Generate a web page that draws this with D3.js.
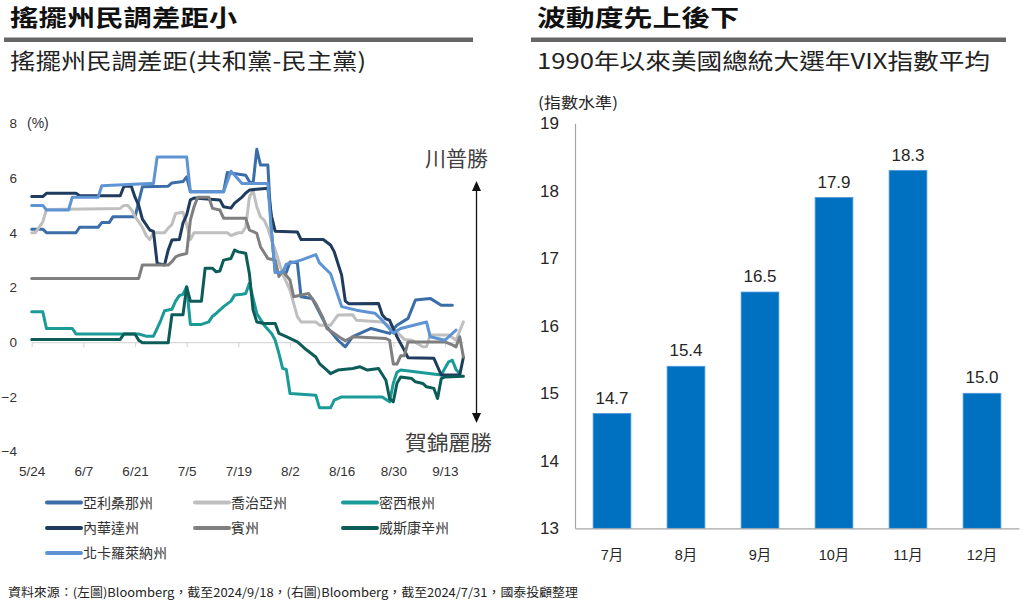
<!DOCTYPE html>
<html><head><meta charset="utf-8">
<script src="https://cdn.jsdelivr.net/npm/d3@7"></script>
<style>body{margin:0;background:#fff} svg{display:block}</style>
</head><body><svg id="c" width="1024" height="606"></svg>
<script>
// ---------- Left chart data ----------
const xTickLabels = ["5/24","6/7","6/21","7/5","7/19","8/2","8/16","8/30","9/13"];
const yTicksLeft = [8,6,4,2,0,-2,-4];
const stateNames = ["亞利桑那州","喬治亞州","密西根州","內華達州","賓州","威斯康辛州","北卡羅萊納州"];
const stateColors = ["#3b6ea8","#bfbfbf","#1a9b98","#1f3b5e","#7f7f7f","#0c5c57","#5e94d4"];

const arizona = [["5/24",4.13],["5/27",4.13],["5/28",4.0],["6/5",4.0],["6/6",4.2],["6/11",4.2],["6/12",4.37],["6/14",4.37],["6/15",4.58],["6/21",4.58],["6/23",5.68],["6/30",5.7],["7/1",5.82],["7/4",5.87],["7/5",6.04],["7/6",5.5],["7/15",5.5],["7/16",6.2],["7/21",6.1],["7/22",5.87],["7/23",5.8],["7/24",7.05],["7/25",6.48],["7/27",6.48],["7/28",4.0],["7/29",2.55],["8/1",2.55],["8/2",2.93],["8/4",2.9],["8/5",1.66],["8/8",1.6],["8/12",0.56],["8/15",0.07],["8/17",-0.17],["8/19",0.2],["8/24",0.5],["8/29",0.32],["8/31",0.62],["9/3",0.87],["9/5",1.54],["9/9",1.6],["9/12",1.35],["9/15",1.35]];
const georgia = [["5/24",4.0],["5/25",4.0],["5/27",4.4],["5/28",4.85],["6/17",4.89],["6/18",5.0],["6/19",5.0],["6/20",4.85],["6/21",4.6],["6/23",4.2],["6/24",3.9],["6/25",3.75],["6/26",4.0],["6/29",4.0],["6/30",4.17],["7/1",4.3],["7/2",4.7],["7/4",4.75],["7/5",4.3],["7/6",3.75],["7/7",4.0],["7/16",4.0],["7/17",3.9],["7/19",4.0],["7/20",4.0],["7/21",4.2],["7/22",5.3],["7/23",5.55],["7/24",4.95],["7/25",4.58],["7/26",4.46],["7/27",4.16],["7/28",3.73],["7/29",3.37],["7/31",2.5],["8/2",1.9],["8/3",1.42],["8/4",0.93],["8/5",0.74],["8/9",0.74],["8/10",0.62],["8/13",0.62],["8/15",0.99],["8/19",1.0],["8/20",0.8],["8/27",0.74],["8/30",0.5],["9/2",0.1],["9/4",0.07],["9/7",-0.17],["9/8",-0.17],["9/9",0.26],["9/14",0.26],["9/16",0.07],["9/18",0.74]];
const michigan = [["5/24",1.11],["5/27",1.11],["5/28",0.5],["6/4",0.5],["6/5",0.3],["6/22",0.3],["6/24",0.22],["6/26",0.22],["6/27",0.5],["6/28",0.8],["6/29",1.15],["7/1",1.2],["7/2",1.5],["7/3",1.7],["7/4",1.75],["7/5",2.02],["7/6",0.65],["7/9",0.65],["7/11",0.74],["7/12",0.95],["7/13",1.05],["7/15",1.3],["7/17",1.5],["7/18",1.72],["7/20",1.75],["7/21",1.78],["7/22",2.15],["7/23",1.6],["7/24",1.05],["7/26",0.62],["7/28",0.32],["7/29",0.07],["7/30",-0.41],["7/31",-0.96],["8/1",-1.0],["8/2",-1.88],["8/9",-1.94],["8/10",-2.4],["8/13",-2.4],["8/14",-2.12],["8/16",-2.0],["8/27",-2.0],["8/29",-2.18],["8/30",-1.5],["8/31",-1.1],["9/1",-1.02],["9/12",-1.2],["9/13",-0.95],["9/14",-0.72],["9/15",-0.66],["9/16",-1.0],["9/17",-1.15]];
const nevada = [["5/24",5.32],["5/27",5.32],["5/28",5.44],["6/5",5.44],["6/6",5.35],["6/17",5.35],["6/18",5.7],["6/20",5.7],["6/21",5.3],["6/22",5.0],["6/23",4.5],["6/25",4.1],["6/26",4.05],["6/27",2.88],["6/29",2.82],["6/30",3.37],["7/1",3.73],["7/3",3.75],["7/4",4.35],["7/5",4.65],["7/6",5.2],["7/7",5.27],["7/14",5.2],["7/15",4.95],["7/17",4.9],["7/18",5.08],["7/20",5.3],["7/21",5.45],["7/22",5.56],["7/27",5.63],["7/28",4.6],["7/29",4.05],["8/4",4.03],["8/5",3.75],["8/11",3.75],["8/13",3.55],["8/14",3.3],["8/16",2.45],["8/17",1.5],["8/18",1.4],["8/26",1.41],["8/27",1.0],["8/28",0.85],["8/29",0.8],["8/31",0.2],["9/2",-0.3],["9/3",-0.57],["9/10",-0.59],["9/12",-1.2],["9/17",-1.2],["9/18",-0.55]];
const pennsylvania = [["5/24",2.33],["6/22",2.33],["6/23",2.82],["6/30",2.82],["7/1",2.94],["7/2",3.12],["7/3",3.18],["7/5",3.24],["7/6",4.46],["7/7",4.95],["7/8",5.3],["7/11",5.3],["7/12",4.89],["7/14",4.83],["7/15",4.53],["7/21",4.53],["7/22",4.1],["7/24",3.98],["7/25",3.49],["7/27",3.06],["7/29",3.0],["7/30",2.4],["7/31",2.6],["8/2",2.27],["8/3",1.66],["8/7",1.78],["8/9",1.41],["8/11",0.87],["8/12",0.5],["8/14",0.32],["8/16",0.13],["8/17",0.05],["8/19",0.2],["8/28",0.13],["8/29",0.07],["8/30",-0.8],["8/31",-0.8],["9/1",-0.5],["9/2",-0.5],["9/3",0.01],["9/13",0.01],["9/15",-0.1],["9/16",-0.17],["9/17",0.2],["9/18",-0.54]];
const wisconsin = [["5/24",0.1],["6/17",0.1],["6/18",0.3],["6/21",0.3],["6/22",0.07],["6/23",-0.02],["6/30",-0.02],["7/1",1.0],["7/4",1.0],["7/5",2.02],["7/6",1.5],["7/9",1.5],["7/10",2.7],["7/12",2.7],["7/13",2.57],["7/14",2.6],["7/15",3.0],["7/17",3.06],["7/18",3.37],["7/19",3.3],["7/21",3.25],["7/22",2.5],["7/23",1.17],["7/24",0.74],["7/26",0.68],["7/29",0.68],["7/30",0.32],["8/1",0.2],["8/4",0.01],["8/6",-0.23],["8/9",-0.54],["8/10",-0.78],["8/12",-1.02],["8/13",-1.15],["8/15",-1.02],["8/19",-0.96],["8/21",-0.9],["8/23",-1.02],["8/26",-0.96],["8/28",-1.39],["8/29",-2.06],["8/30",-2.18],["8/31",-1.5],["9/1",-1.27],["9/4",-1.33],["9/5",-1.45],["9/7",-1.51],["9/8",-1.63],["9/10",-1.69],["9/11",-2.06],["9/12",-1.33],["9/13",-1.27],["9/18",-1.25]];
const northCarolina = [["5/24",5.0],["5/27",5.0],["5/28",4.83],["6/3",4.83],["6/4",5.3],["6/11",5.3],["6/12",5.72],["6/25",5.8],["6/26",5.8],["6/27",6.77],["7/5",6.77],["7/6",5.5],["7/15",5.5],["7/17",6.25],["7/18",6.1],["7/20",5.8],["7/27",5.8],["7/28",4.0],["7/29",2.55],["7/31",2.55],["8/1",2.85],["8/5",3.0],["8/9",3.2],["8/10",2.9],["8/13",2.5],["8/16",1.3],["8/20",1.17],["8/25",1.06],["8/27",0.8],["8/30",0.33],["9/1",0.5],["9/8",0.74],["9/9",0.2],["9/13",0.07],["9/16",0.44]];

// ---------- Right chart data ----------
const months = ["7月","8月","9月","10月","11月","12月"];
const vixAvg = [14.7,15.4,16.5,17.9,18.3,15.0];
const yTicksRight = [13,14,15,16,17,18,19];

// ---------- helpers ----------
const md = s => { const [m,d] = s.split("/").map(Number); return new Date(2024, m-1, d); };
const allSeries = [arizona, georgia, michigan, nevada, pennsylvania, wisconsin, northCarolina];

const svg = d3.select("#c");
const CJK = "'Noto Sans CJK TC','Noto Sans CJK SC',sans-serif";
const LAT = "'Liberation Sans',Arial,'Noto Sans CJK TC',sans-serif";

// ---------- Headers ----------
function header(x0, x1, title, tlen, sub, slen) {
  svg.append("text").attr("x", x0 + 6).attr("y", 25.5).attr("font-family", CJK)
    .attr("font-size", 23).attr("font-weight", "bold").attr("fill", "#111")
    .attr("textLength", tlen).attr("lengthAdjust", "spacingAndGlyphs").text(title);
  svg.append("rect").attr("x", x0).attr("y", 37.5).attr("width", x1 - x0).attr("height", 4.5).attr("fill", "#666");
  svg.append("text").attr("x", x0 + 6).attr("y", 69).attr("font-family", CJK)
    .attr("font-size", 22).attr("fill", "#222")
    .attr("textLength", slen).attr("lengthAdjust", "spacingAndGlyphs").text(sub);
}
header(4, 473, "搖擺州民調差距小", 227, "搖擺州民調差距(共和黨-民主黨)", 356);
header(531, 1006, "波動度先上後下", 202, "1990年以來美國總統大選年VIX指數平均", 453);

// ---------- Left line chart ----------
const x = d3.scaleTime().domain([md("5/24"), md("9/18")]).range([31.7, 463.4]);
const y = d3.scaleLinear().domain([-4, 8]).range([451.6, 123.3]);

const gL = svg.append("g");
const axZ = gL.append("g").attr("transform", `translate(0,${y(0)})`)
  .call(d3.axisBottom(x).tickValues(xTickLabels.map(md)).tickSize(5).tickSizeOuter(0).tickFormat(""));
axZ.select(".domain").attr("stroke", "#d9d9d9").attr("stroke-width", 1.2);
axZ.selectAll(".tick line").attr("stroke", "#d9d9d9").attr("stroke-width", 1.2);

const axB = gL.append("g").attr("transform", "translate(0,462)")
  .call(d3.axisBottom(x).tickValues(xTickLabels.map(md)).tickSize(0).tickPadding(4)
    .tickFormat((d, i) => xTickLabels[i]));
axB.select(".domain").remove();
axB.selectAll("text").attr("font-family", LAT).attr("font-size", 13.5).attr("fill", "#333");

const axY = gL.append("g").attr("transform", "translate(17,0)")
  .call(d3.axisLeft(y).tickValues(yTicksLeft).tickSize(0).tickPadding(0).tickFormat(d3.format("d")));
axY.select(".domain").remove();
axY.selectAll("text").attr("font-family", LAT).attr("font-size", 13.5).attr("fill", "#333");
gL.append("text").attr("x", 27).attr("y", y(8)).attr("dy", "0.35em").attr("font-family", LAT)
  .attr("font-size", 14).attr("fill", "#333").text("(%)");

const line = d3.line().x(d => x(md(d[0]))).y(d => y(d[1]));
allSeries.forEach((s, i) => {
  gL.append("path").datum(s).attr("d", line).attr("fill", "none")
    .attr("stroke", stateColors[i]).attr("stroke-width", 3)
    .attr("stroke-linejoin", "round").attr("stroke-linecap", "round");
});

const ax = 476.5;
gL.append("line").attr("x1", ax).attr("x2", ax).attr("y1", 190).attr("y2", 414)
  .attr("stroke", "#111").attr("stroke-width", 1.3);
gL.append("path").attr("d", `M${ax},181L${ax-4.5},191L${ax+4.5},191Z`).attr("fill", "#111");
gL.append("path").attr("d", `M${ax},423L${ax-4.5},413L${ax+4.5},413Z`).attr("fill", "#111");
gL.append("text").attr("x", 425).attr("y", 165.5).attr("font-family", CJK).attr("font-size", 21)
  .attr("fill", "#404040").attr("textLength", 63).attr("lengthAdjust", "spacingAndGlyphs").text("川普勝");
gL.append("text").attr("x", 405).attr("y", 450).attr("font-family", CJK).attr("font-size", 21)
  .attr("fill", "#404040").attr("textLength", 87).attr("lengthAdjust", "spacingAndGlyphs").text("賀錦麗勝");

const legX = [47, 195, 343], legY = [502.5, 528, 553];
stateNames.forEach((n, i) => {
  const lx = legX[i % 3], ly = legY[Math.floor(i / 3)];
  gL.append("line").attr("x1", lx).attr("x2", lx + 34).attr("y1", ly).attr("y2", ly)
    .attr("stroke", stateColors[i]).attr("stroke-width", 4).attr("stroke-linecap", "round");
  gL.append("text").attr("x", lx + 36).attr("y", ly).attr("dy", "0.36em").attr("font-family", CJK)
    .attr("font-size", 14).attr("fill", "#333").text(n);
});

// ---------- Right bar chart ----------
const xR = d3.scaleBand().domain(months).range([575, 1019]).paddingInner(0.49).paddingOuter(0.245);
const yR = d3.scaleLinear().domain([13, 19]).range([528.3, 123.3]);
const gR = svg.append("g");

gR.selectAll("rect.bar").data(vixAvg).join("rect").attr("class", "bar")
  .attr("x", (d, i) => xR(months[i])).attr("width", xR.bandwidth())
  .attr("y", d => yR(d)).attr("height", d => yR(13) - yR(d))
  .attr("fill", "#0070c0").attr("stroke", "#4a97dc").attr("stroke-width", 0.8);

gR.selectAll("text.val").data(vixAvg).join("text").attr("class", "val")
  .attr("x", (d, i) => xR(months[i]) + xR.bandwidth() / 2).attr("y", d => yR(d) - 10)
  .attr("text-anchor", "middle").attr("font-family", LAT).attr("font-size", 17)
  .attr("fill", "#262626").text(d => d.toFixed(1));

const axRY = gR.append("g").attr("transform", "translate(575,0)")
  .call(d3.axisLeft(yR).tickValues(yTicksRight).tickSize(0).tickSizeOuter(0).tickPadding(16)
    .tickFormat(d3.format("d")));
axRY.select(".domain").attr("stroke", "#a6a6a6").attr("stroke-width", 1.2);
axRY.selectAll("text").attr("font-family", LAT).attr("font-size", 17).attr("fill", "#262626");

const axRX = gR.append("g").attr("transform", "translate(0,528.3)")
  .call(d3.axisBottom(xR).tickSize(0).tickSizeOuter(0).tickPadding(21));
axRX.select(".domain").attr("stroke", "#a6a6a6").attr("stroke-width", 1.2);
axRX.selectAll("text").attr("font-family", LAT).attr("font-size", 14.5).attr("fill", "#262626");

gR.append("text").attr("x", 538).attr("y", 102.5).attr("dy", "0.35em").attr("font-family", CJK)
  .attr("font-size", 15).attr("fill", "#262626").attr("textLength", 80)
  .attr("lengthAdjust", "spacingAndGlyphs").text("(指數水準)");

// ---------- Footer ----------
svg.append("text").attr("x", 8).attr("y", 596.5).attr("font-family", CJK).attr("font-size", 12)
  .attr("fill", "#222").attr("textLength", 570).attr("lengthAdjust", "spacingAndGlyphs")
  .text("資料來源：(左圖)Bloomberg，截至2024/9/18，(右圖)Bloomberg，截至2024/7/31，國泰投顧整理");
</script></body></html>
